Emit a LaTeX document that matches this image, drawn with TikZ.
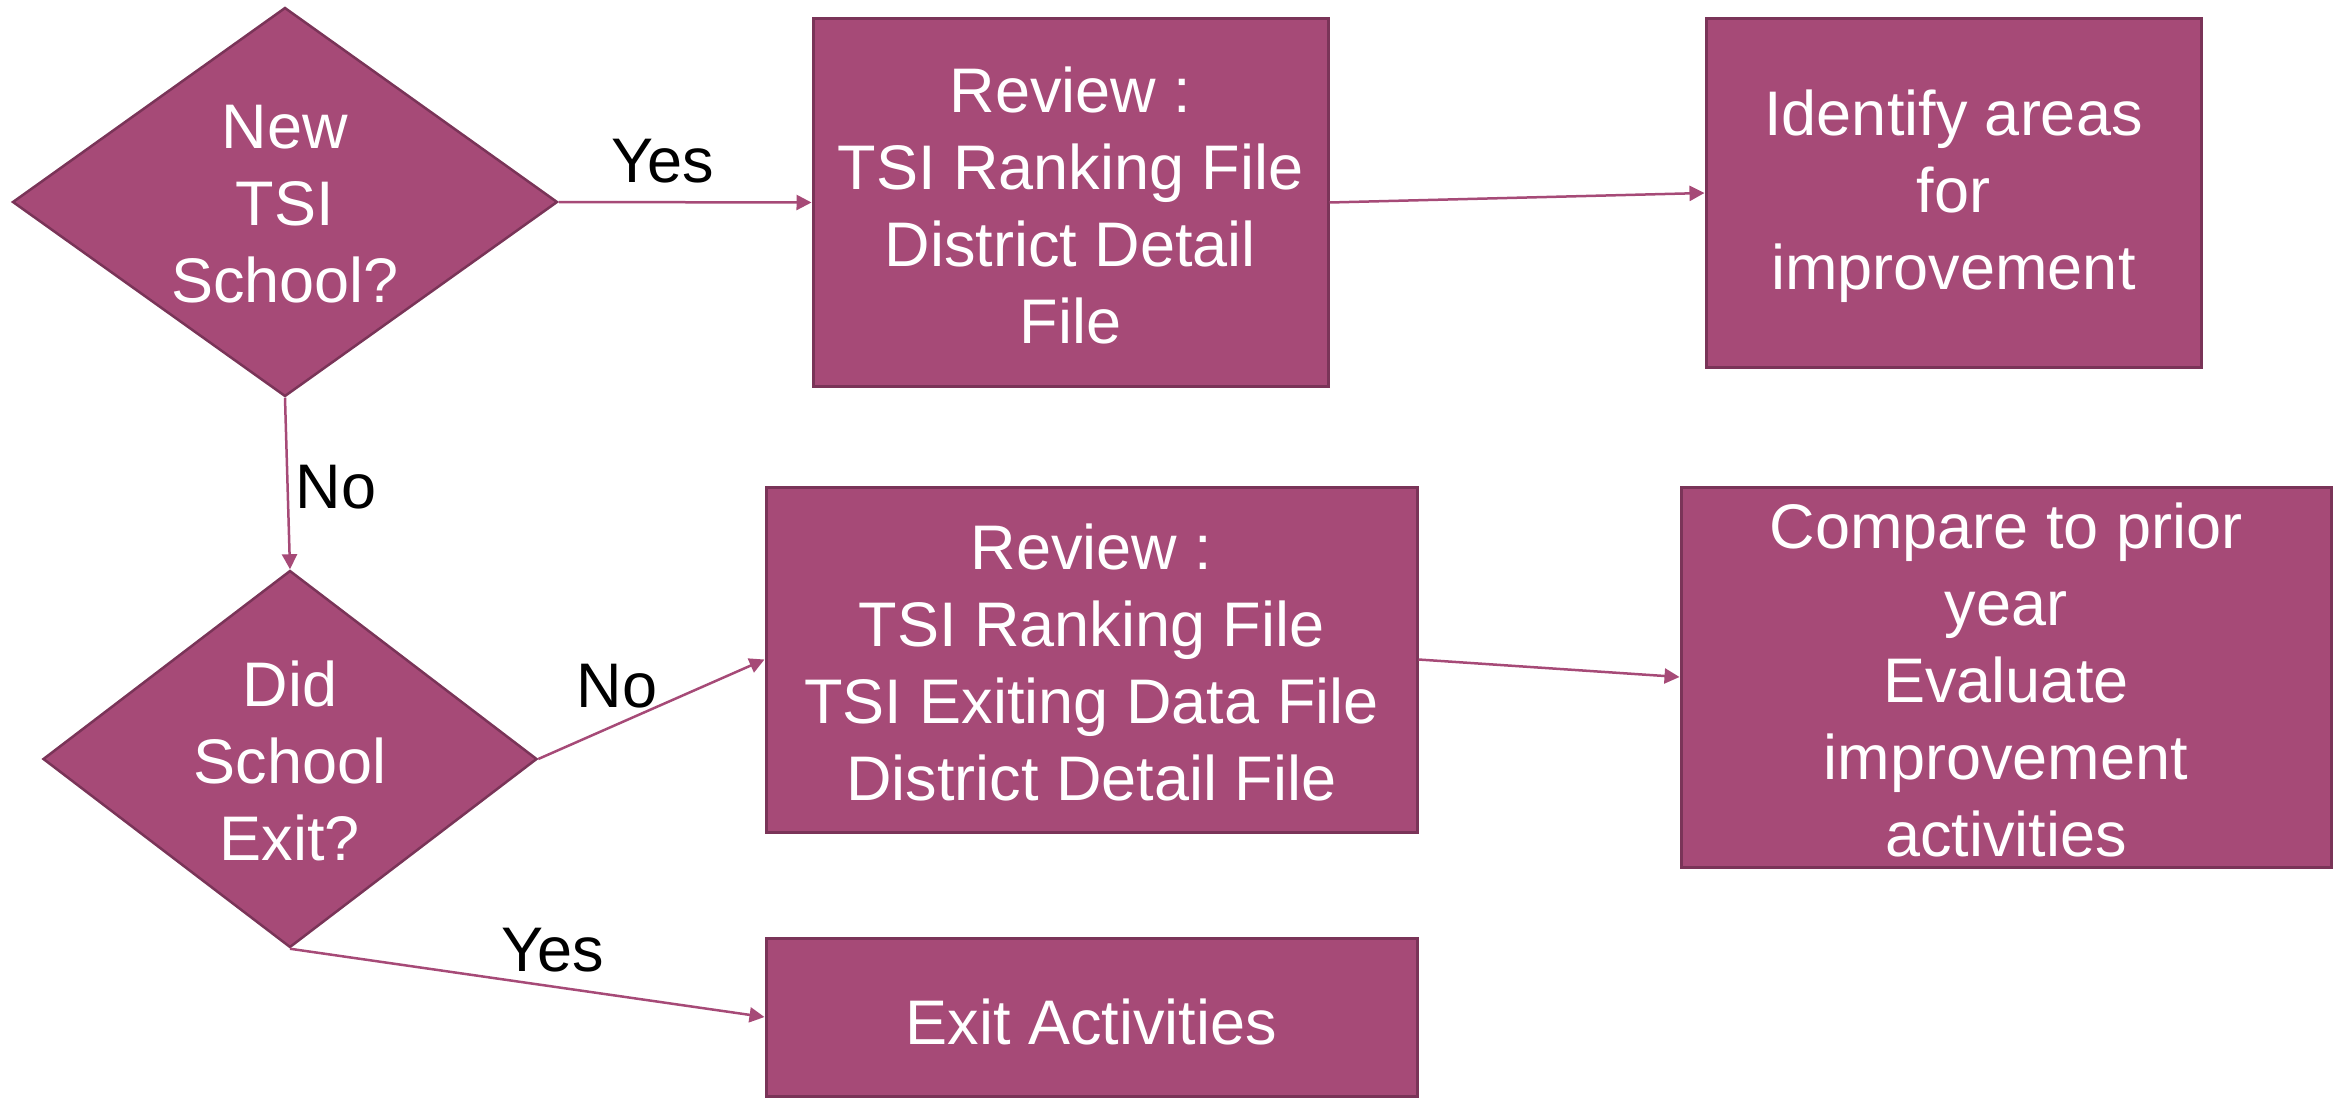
\documentclass[tikz,border=0pt]{standalone}
\usepackage{fontspec}
\setmainfont{Liberation Sans}
\usetikzlibrary{shapes.geometric,arrows.meta}
\definecolor{berry}{RGB}{166,74,119}
\definecolor{berryedge}{RGB}{122,52,88}
\tikzset{
  box/.style={rectangle, draw=berryedge, fill=berry, line width=3pt, inner sep=0pt},
  dia/.style={diamond, draw=berryedge, fill=berry, line width=2.5pt, inner sep=0pt},
  txt/.style={text=white, align=center, font=\fontsize{63}{77}\selectfont, inner sep=0pt},
  lbl/.style={text=black, font=\fontsize{63}{77}\selectfont, inner sep=0pt},
  conn/.style={draw=berry, line width=2.5pt, -{Triangle[length=15pt,width=15pt]}},
}
\begin{document}
\begin{tikzpicture}[x=1pt,y=-1pt]
\useasboundingbox (0,0) rectangle (2343,1102);
% diamonds
\node[dia, minimum width=545, minimum height=389] (d1) at (285,202) {};
\node[txt] (d1t) at (285,204) {New\\TSI\\School?};
\node[dia, minimum width=494, minimum height=377] (d2) at (290,759) {};
\node[txt] (d2t) at (290,761) {Did\\School\\Exit?};
% boxes
\node[box, minimum width=515, minimum height=367] (b1) at (1070.5,202.5) {};
\node[txt] (b1t) at (1070.5,205) {Review :\\TSI Ranking File\\District Detail\\File};
\node[box, minimum width=495, minimum height=348] (b2) at (1953.5,193) {};
\node[txt] (b2t) at (1953.5,196) {Identify areas\\for\\improvement};
\node[box, minimum width=651, minimum height=345] (b3) at (1091.5,659.5) {};
\node[txt] (b3t) at (1091.5,662) {Review :\\TSI Ranking File\\TSI Exiting Data File\\District Detail File};
\node[box, minimum width=650, minimum height=380] (b4) at (2006,677) {};
\node[txt] (b4t) at (2006,680) {Compare to prior\\year\\Evaluate\\improvement\\activities};
\node[box, minimum width=651, minimum height=158] (b5) at (1091.5,1017) {};
\node[txt] (b5t) at (1091.5,1022) {Exit Activities};
% connectors
\draw[conn] (d1.east) -- (b1.west);
\draw[conn] (b1.east) -- (b2.west);
\draw[conn] (d1.south) -- (d2.north);
\draw[conn] (d2.east) -- (b3.west);
\draw[conn] (b3.east) -- (b4.west);
\draw[conn] (d2.south) -- (b5.west);
% labels
\node[lbl] (l1) at (663,161) {Yes};
\node[lbl] (l2) at (336,487) {No};
\node[lbl] (l3) at (617,686) {No};
\node[lbl] (l4) at (553,950) {Yes};
\end{tikzpicture}
\end{document}
